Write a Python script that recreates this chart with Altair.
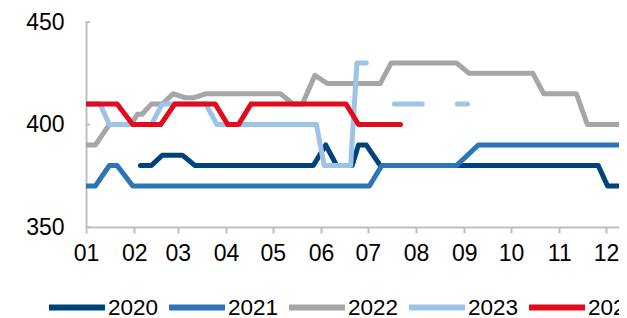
import altair as alt
import pandas as pd

years = ["2020", "2021", "2022", "2023", "2024"]
colors = ["#00427a", "#2e75b6", "#a6a6a6", "#9dc3e6", "#e00b1c"]

d2020 = ["02-05", "02-12", "02-19", "03-04", "03-12", "05-27", "06-04", "06-11",
         "06-21", "06-25", "06-30", "07-09", "11-26", "12-02", "12-31"]
v2020 = [380, 380, 385, 385, 380, 380, 390, 380, 380, 390, 390, 380, 380, 370, 370]

d2021 = ["01-01", "01-07", "01-16", "01-21", "01-31", "07-02", "07-10", "08-27",
         "09-10", "12-31"]
v2021 = [370, 370, 380, 380, 370, 370, 380, 380, 390, 390]

d2022 = ["01-01", "01-07", "01-16", "01-30", "02-03", "02-06", "02-12", "02-19",
         "02-26", "03-06", "03-11", "03-19", "05-06", "05-14", "05-20", "05-28",
         "06-05", "07-09", "07-16", "08-27", "09-04", "10-15", "10-22", "11-12",
         "11-19", "12-31"]
v2022 = [390, 390, 400, 400, 405, 405, 410, 410, 415, 413, 413, 415, 415, 410,
         410, 424, 420, 420, 430, 430, 425, 425, 415, 415, 400, 400]

d2023 = ["01-01", "01-10", "01-16", "02-12", "02-19", "03-19", "03-26", "05-29",
         "06-03", "06-20", "06-24", "06-30"]
v2023 = [410, 410, 400, 400, 410, 410, 400, 400, 380, 380, 430, 430]

d2023_dash = ["07-18", "09-03"]
v2023_dash = [410, 410]

d2024 = ["01-01", "01-21", "01-31", "02-18", "02-27", "03-25", "04-02", "04-09",
         "04-17", "06-17", "06-25", "07-22"]
v2024 = [410, 410, 400, 400, 410, 410, 400, 400, 410, 410, 400, 400]

y_ticks = [350, 400, 450]

rows = []
for yr, ds, vs, style in [("2020", d2020, v2020, "solid"), ("2021", d2021, v2021, "solid"),
                          ("2022", d2022, v2022, "solid"), ("2023", d2023, v2023, "solid"),
                          ("2023", d2023_dash, v2023_dash, "dash"), ("2024", d2024, v2024, "solid")]:
    for d, v in zip(ds, vs):
        rows.append({"date": "2001/" + d.replace("-", "/"), "value": v, "series": yr, "style": style})
df = pd.DataFrame(rows)

FONT = "Liberation Sans"
AX = "#bfbfbf"

lines = alt.Chart(df).mark_line(strokeWidth=5, strokeCap="round", strokeJoin="round", clip=True).encode(
    x=alt.X("date:T",
            scale=alt.Scale(domain=[alt.DateTime(year=2001, month=1, date=1),
                                    alt.DateTime(year=2001, month=12, date=9, hours=8, minutes=24)]),
            axis=alt.Axis(title=None, format="%m", tickCount=alt.TimeIntervalStep(interval="month", step=1),
                          labelFlush=False, labelOverlap=False, grid=False, tickSize=6,
                          labelPadding=9)),
    y=alt.Y("value:Q", scale=alt.Scale(domain=[350, 450], nice=False, zero=False),
            axis=alt.Axis(title=None, values=y_ticks, grid=False, tickSize=0, labelPadding=22)),
    color=alt.Color("series:N", scale=alt.Scale(domain=years, range=colors),
                    legend=alt.Legend(title=None, orient="none", direction="horizontal", columns=5,
                                      legendX=-40, legendY=254.5, symbolType="stroke",
                                      symbolSize=3136, symbolStrokeWidth=6, labelOffset=0,
                                      columnPadding=-2, padding=0, labelFontSize=22.5,
                                      labelFont=FONT, labelColor="#000000")),
    strokeDash=alt.StrokeDash("style:N", scale=alt.Scale(domain=["solid", "dash"], range=[[1, 0], [28, 35]]),
                              legend=None),
)

ticks = alt.Chart(pd.DataFrame({"v": y_ticks})).mark_rule(color=AX, strokeWidth=2).encode(
    y="v:Q", x=alt.value(0), x2=alt.value(4)
)

chart = alt.layer(lines, ticks).properties(
    width=533, height=205,
    autosize=alt.AutoSizeParams(type="none"),
    padding={"left": 78, "top": 14, "right": 0, "bottom": 91},
).configure_view(stroke=None).configure_axis(
    domainColor=AX, domainWidth=2, tickColor=AX, tickWidth=2,
    labelFont=FONT, labelFontSize=23, labelColor="#000000",
)

chart.save("out.html", embed_options={"renderer": "svg", "actions": False})
